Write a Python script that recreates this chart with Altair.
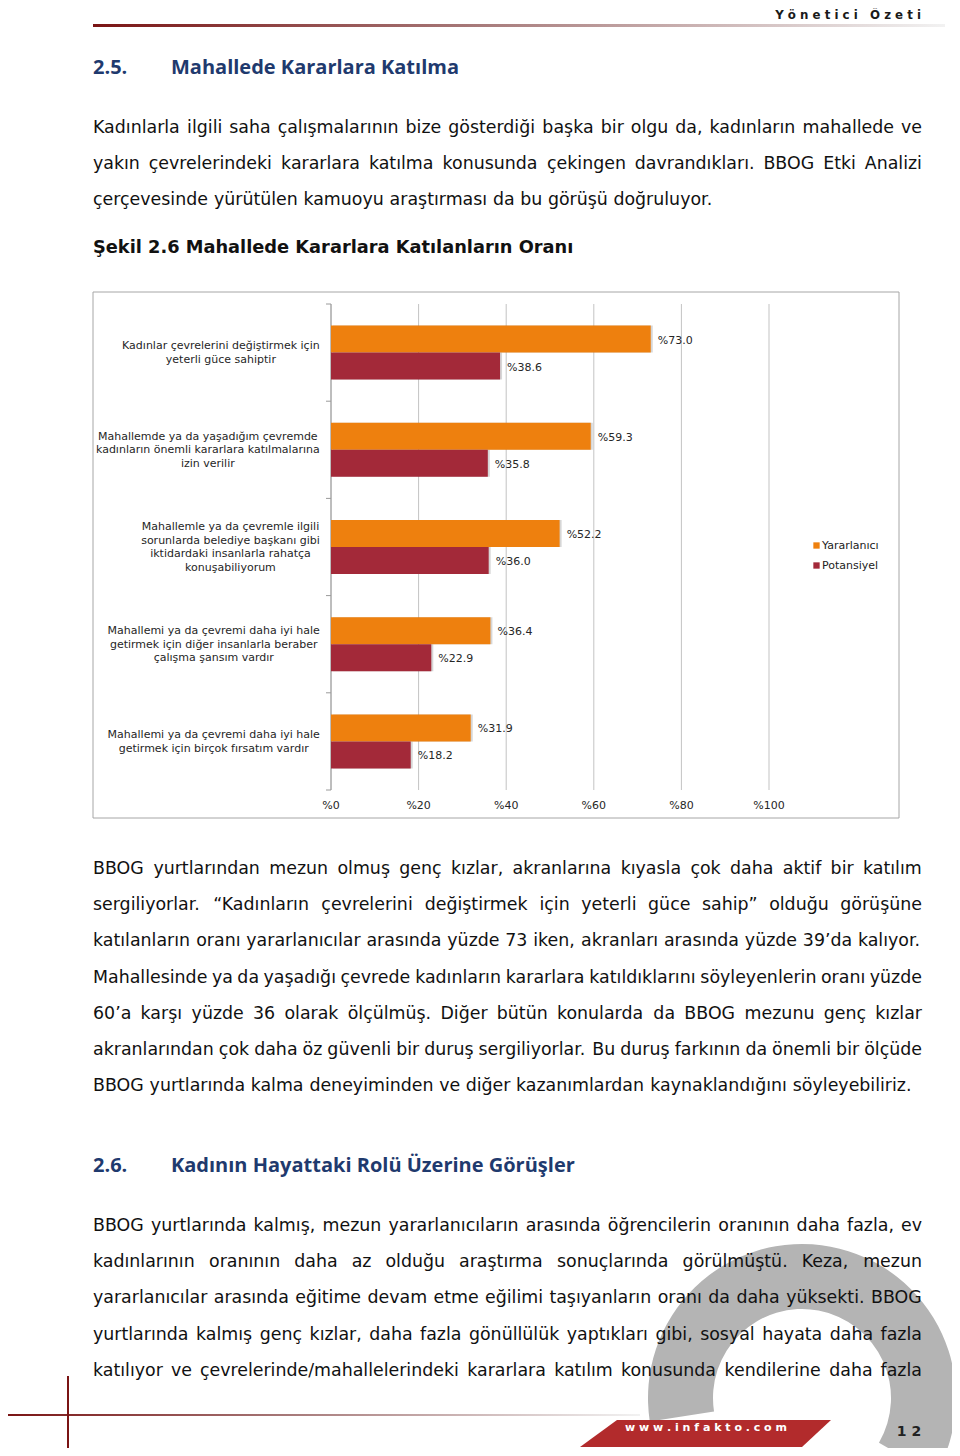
import altair as alt
import pandas as pd

# ---------------- data ----------------
categories = [
    "Kadınlar çevrelerini değiştirmek için\nyeterli güce sahiptir",
    "Mahallemde ya da yaşadığım çevremde\nkadınların önemli kararlara katılmalarına\nizin verilir",
    "Mahallemle ya da çevremle ilgili\nsorunlarda belediye başkanı gibi\niktidardaki insanlarla rahatça\nkonuşabiliyorum",
    "Mahallemi ya da çevremi daha iyi hale\ngetirmek için diğer insanlarla beraber\nçalışma şansım vardır",
    "Mahallemi ya da çevremi daha iyi hale\ngetirmek için birçok fırsatım vardır",
]
yararlanici = [73.0, 59.3, 52.2, 36.4, 31.9]
potansiyel = [38.6, 35.8, 36.0, 22.9, 18.2]
series_names = ["Yararlanıcı", "Potansiyel"]
series_colors = ["#EE800E", "#A32939"]
x_ticks = [0, 20, 40, 60, 80, 100]
x_tick_labels = ["%0", "%20", "%40", "%60", "%80", "%100"]

header_text = "Y ö n e t i c i \u00a0 Ö z e t i"
heading1 = ("2.5.", "Mahallede Kararlara Katılma")
heading2 = ("2.6.", "Kadının Hayattaki Rolü Üzerine Görüşler")
caption = "Şekil 2.6 Mahallede Kararlara Katılanların Oranı"
para1 = [
    "Kadınlarla ilgili saha çalışmalarının bize gösterdiği başka bir olgu da, kadınların mahallede ve",
    "yakın çevrelerindeki kararlara katılma konusunda çekingen davrandıkları. BBOG Etki Analizi",
    "çerçevesinde yürütülen kamuoyu araştırması da bu görüşü doğruluyor.",
]
para2 = [
    "BBOG yurtlarından mezun olmuş genç kızlar, akranlarına kıyasla çok daha aktif bir katılım",
    "sergiliyorlar. “Kadınların çevrelerini değiştirmek için yeterli güce sahip” olduğu görüşüne",
    "katılanların oranı yararlanıcılar arasında yüzde 73 iken, akranları arasında yüzde 39’da kalıyor.",
    "Mahallesinde ya da yaşadığı çevrede kadınların kararlara katıldıklarını söyleyenlerin oranı yüzde",
    "60’a karşı yüzde 36 olarak ölçülmüş. Diğer bütün konularda da BBOG mezunu genç kızlar",
    "akranlarından çok daha öz güvenli bir duruş sergiliyorlar. Bu duruş farkının da önemli bir ölçüde",
    "BBOG yurtlarında kalma deneyiminden ve diğer kazanımlardan kaynaklandığını söyleyebiliriz.",
]
para3 = [
    "BBOG yurtlarında kalmış, mezun yararlanıcıların arasında öğrencilerin oranının daha fazla, ev",
    "kadınlarının oranının daha az olduğu araştırma sonuçlarında görülmüştü. Keza, mezun",
    "yararlanıcılar arasında eğitime devam etme eğilimi taşıyanların oranı da daha yüksekti. BBOG",
    "yurtlarında kalmış genç kızlar, daha fazla gönüllülük yaptıkları gibi, sosyal hayata daha fazla",
    "katılıyor ve çevrelerinde/mahallelerindeki kararlara katılım konusunda kendilerine daha fazla",
]
footer_site = "w w w . i n f a k t o . c o m"
page_number = "1 2"

# ---------------- layout helpers ----------------
M = 8  # page margin: canvas coordinate = page coordinate - 8
FONT = "DejaVu Sans"

DV = {" ": .318, "a": .613, "b": .635, "c": .550, "d": .635, "e": .615, "f": .352, "g": .635,
      "h": .634, "i": .278, "j": .278, "k": .579, "l": .278, "m": .974, "n": .634, "o": .612,
      "p": .635, "q": .635, "r": .411, "s": .521, "t": .392, "u": .634, "v": .592, "w": .818,
      "x": .592, "y": .592, "z": .525, "ç": .550, "ğ": .635, "ı": .278, "ş": .521, "ö": .612,
      "ü": .634, "A": .684, "B": .686, "C": .698, "D": .770, "E": .632, "F": .575, "G": .775,
      "H": .752, "I": .295, "K": .656, "L": .557, "M": .863, "N": .748, "O": .787, "P": .603,
      "R": .695, "S": .635, "T": .611, "U": .732, "Y": .611, "Ş": .635, "Ö": .787, "Ü": .732,
      ",": .318, ".": .318, "/": .337, "“": .518, "”": .518, "’": .318, "%": .950}
for d in "0123456789":
    DV[d] = .636


def tw(s, size):
    return sum(DV.get(ch, .6) for ch in s) * size


BODY_SIZE = 17.4
LEFT, RIGHT = 93, 922


def layout_paragraph(lines, y0, step, last_justified):
    rows = []
    for i, line in enumerate(lines):
        words = line.split(" ")
        widths = [tw(w, BODY_SIZE) for w in words]
        justify = (i < len(lines) - 1) or last_justified
        if justify and len(words) > 1:
            gap = (RIGHT - LEFT - sum(widths)) / (len(words) - 1)
        else:
            gap = tw(" ", BODY_SIZE)
        x = LEFT
        for w, wd in zip(words, widths):
            rows.append({"w": w, "x": x - M, "y": y0 + i * step - M})
            x += wd + gap
    return rows


body_rows = (layout_paragraph(para1, 126, 36.2, False)
             + layout_paragraph(para2, 867, 36.2, False)
             + layout_paragraph(para3, 1224, 36.2, True))
body_df = pd.DataFrame(body_rows)

one = pd.DataFrame({"a": [0]})

# chart geometry (canvas px)
X0, X1 = 331 - M, 769 - M
Y0, Y1 = 304 - M, 790 - M
xscale = alt.Scale(domain=[0, 100], range=[X0, X1], nice=False, zero=False)
yscale = alt.Scale(type="band", domain=categories, range=[Y0, Y1],
                   paddingInner=0.444, paddingOuter=0.222)
yoff_scale = alt.Scale(domain=series_names, paddingInner=0, paddingOuter=0)

bars_df = pd.DataFrame({
    "cat": categories * 2,
    "series": [series_names[0]] * 5 + [series_names[1]] * 5,
    "value": yararlanici + potansiyel,
})
bars_df["label"] = ["%" + f"{v:.1f}" for v in bars_df["value"]]

ticks_df = pd.DataFrame({"t": x_ticks, "lab": x_tick_labels})
bound_df = pd.DataFrame({"k": list(range(len(categories) + 1))})

LABEL_LH = 13.6


def label_center(c):
    return 320 - M - max(tw(l, 11) for l in c.split("\n")) / 2


cat_df = pd.DataFrame({"cat": categories,
                       "lx": [label_center(c) for c in categories],
                       "n": [len(c.split("\n")) for c in categories]})

# ---------------- layers ----------------
layers = []

# gray ring decoration (behind text)
layers.append(alt.Chart(one).mark_arc(color="#b4b4b4").encode(
    x=alt.value(802 - M), y=alt.value(1398 - M),
    theta=alt.value(4.56), theta2=alt.value(8.38),
    radius=alt.value(154), radius2=alt.value(89)))

# header
grad_dark = {"gradient": "linear", "x1": 0, "x2": 1, "y1": 0, "y2": 0,
             "stops": [{"offset": 0, "color": "#7a1414"},
                       {"offset": 0.45, "color": "#a77a7a"},
                       {"offset": 1, "color": "#f2f2f2"}]}
layers.append(alt.Chart(one).mark_rect(fill=grad_dark).encode(
    x=alt.value(93 - M), x2=alt.value(945 - M), y=alt.value(24 - M), y2=alt.value(27 - M)))
layers.append(alt.Chart(one).mark_text(
    text=header_text, align="right", baseline="middle", font=FONT, fontWeight="bold",
    fontSize=11.8, color="#1a1a1a").encode(x=alt.value(921 - M), y=alt.value(15 - M)))

# section headings & caption
head_df = pd.DataFrame({
    "t": [heading1[0], heading1[1], heading2[0], heading2[1]],
    "x": [93 - M, 171 - M, 93 - M, 171 - M],
    "y": [68 - M, 68 - M, 1166 - M, 1166 - M]})
layers.append(alt.Chart(head_df).mark_text(
    align="left", baseline="middle", font="Open Sans", fontWeight="bold", fontSize=20,
    color="#1F3A6E").encode(
    x=alt.X("x:Q", scale=None, axis=None), y=alt.Y("y:Q", scale=None, axis=None), text="t:N"))
layers.append(alt.Chart(one).mark_text(
    text=caption, align="left", baseline="middle", font=FONT, fontWeight="bold",
    fontSize=17.8, color="#111111").encode(x=alt.value(93 - M), y=alt.value(248 - M)))

# body text
layers.append(alt.Chart(body_df).mark_text(
    align="left", baseline="middle", dy=2, font=FONT, fontSize=BODY_SIZE, color="#111111").encode(
    x=alt.X("x:Q", scale=None, axis=None), y=alt.Y("y:Q", scale=None, axis=None), text="w:N"))

# chart frame
layers.append(alt.Chart(one).mark_rect(fill="white", stroke="#a6a6a6", strokeWidth=1).encode(
    x=alt.value(93 - M), x2=alt.value(899 - M), y=alt.value(292 - M), y2=alt.value(818 - M)))

# gridlines
layers.append(alt.Chart(ticks_df).mark_rule(color="#c3c3c3", strokeWidth=1).encode(
    x=alt.X("t:Q", scale=xscale, axis=None), y=alt.value(Y0), y2=alt.value(Y1)))
# y axis line and category boundary ticks
layers.append(alt.Chart(one).mark_rule(color="#9a9a9a", strokeWidth=1).encode(
    x=alt.value(X0), y=alt.value(Y0), y2=alt.value(Y1)))
layers.append(alt.Chart(bound_df).mark_rule(color="#9a9a9a", strokeWidth=1).encode(
    y=alt.Y("k:Q", scale=alt.Scale(domain=[0, len(categories)], range=[Y0, Y1], nice=False, zero=False), axis=None),
    x=alt.value(X0 - 5), x2=alt.value(X0)))

# soft drop shadow under bars
layers.append(alt.Chart(bars_df).mark_bar(
    color="#000000", opacity=0.16, xOffset=2, x2Offset=2, yOffset=2, y2Offset=2).encode(
    x=alt.X("value:Q", scale=xscale, axis=None),
    y=alt.Y("cat:N", scale=yscale, axis=None, sort=categories),
    yOffset=alt.YOffset("series:N", scale=yoff_scale, sort=series_names)))

# bars
layers.append(alt.Chart(bars_df).mark_bar().encode(
    x=alt.X("value:Q", scale=xscale, axis=None),
    y=alt.Y("cat:N", scale=yscale, axis=None, sort=categories),
    yOffset=alt.YOffset("series:N", scale=yoff_scale, sort=series_names),
    color=alt.Color("series:N", sort=series_names,
                    scale=alt.Scale(domain=series_names, range=series_colors),
                    legend=alt.Legend(title=None, orient="none", legendX=811 - M, legendY=540 - M,
                                      symbolType="square", symbolSize=40, labelFont=FONT,
                                      labelFontSize=11, labelColor="#222222", rowPadding=8,
                                      labelOffset=0, padding=0, symbolStrokeWidth=0))))
layers.append(alt.Chart(bars_df).mark_text(
    align="left", baseline="middle", dx=7, dy=1.5, font=FONT, fontSize=11, color="#262626").encode(
    x=alt.X("value:Q", scale=xscale, axis=None),
    y=alt.Y("cat:N", scale=yscale, axis=None, sort=categories),
    yOffset=alt.YOffset("series:N", scale=yoff_scale, sort=series_names),
    text="label:N"))

# x tick labels
layers.append(alt.Chart(ticks_df).mark_text(
    align="center", baseline="middle", font=FONT, fontSize=11, color="#262626").encode(
    x=alt.X("t:Q", scale=xscale, axis=None), y=alt.value(806 - M), text="lab:N"))

# category labels (multi-line block centred on its band)
for n in sorted(set(cat_df["n"])):
    layers.append(alt.Chart(cat_df).transform_filter(alt.datum.n == n).mark_text(
        align="center", baseline="middle", dy=-(n - 1) / 2 * LABEL_LH + 0.5,
        font=FONT, fontSize=11, lineHeight=LABEL_LH,
        lineBreak="\n", color="#262626").encode(
        x=alt.X("lx:Q", scale=None, axis=None),
        y=alt.Y("cat:N", scale=yscale, axis=None, sort=categories),
        text="cat:N"))

# footer lines
layers.append(alt.Chart(one).mark_rect(fill=grad_dark).encode(
    x=alt.value(5 - M), x2=alt.value(640 - M), y=alt.value(1414 - M), y2=alt.value(1416 - M)))
layers.append(alt.Chart(one).mark_rect(color="#7a1414").encode(
    x=alt.value(67 - M), x2=alt.value(69 - M), y=alt.value(1376 - M), y2=alt.value(1456 - M)))

# footer banner
banner_df = pd.DataFrame({"y": [1420 - M, 1447 - M], "x": [617 - M, 580 - M], "x2": [831 - M, 802 - M]})
layers.append(alt.Chart(banner_df).mark_area(orient="horizontal", color="#B22B2C").encode(
    y=alt.Y("y:Q", scale=None, axis=None),
    x=alt.X("x:Q", scale=None, axis=None), x2="x2:Q"))
layers.append(alt.Chart(one).mark_text(
    text=footer_site, align="center", baseline="middle", font=FONT, fontWeight="bold",
    fontSize=11, color="white").encode(x=alt.value(706 - M), y=alt.value(1428 - M)))
layers.append(alt.Chart(one).mark_text(
    text=page_number, align="center", baseline="middle", font=FONT, fontWeight="bold",
    fontSize=14, color="#222222").encode(x=alt.value(909 - M), y=alt.value(1432 - M)))

chart = alt.layer(*layers).resolve_scale(
    x="independent", y="independent", color="independent"
).properties(
    width=944, height=1440, padding=0,
    autosize=alt.AutoSizeParams(type="none"),
    background="white",
).configure_view(stroke=None)

chart.save("out.html", embed_options={"renderer": "svg", "actions": False})
